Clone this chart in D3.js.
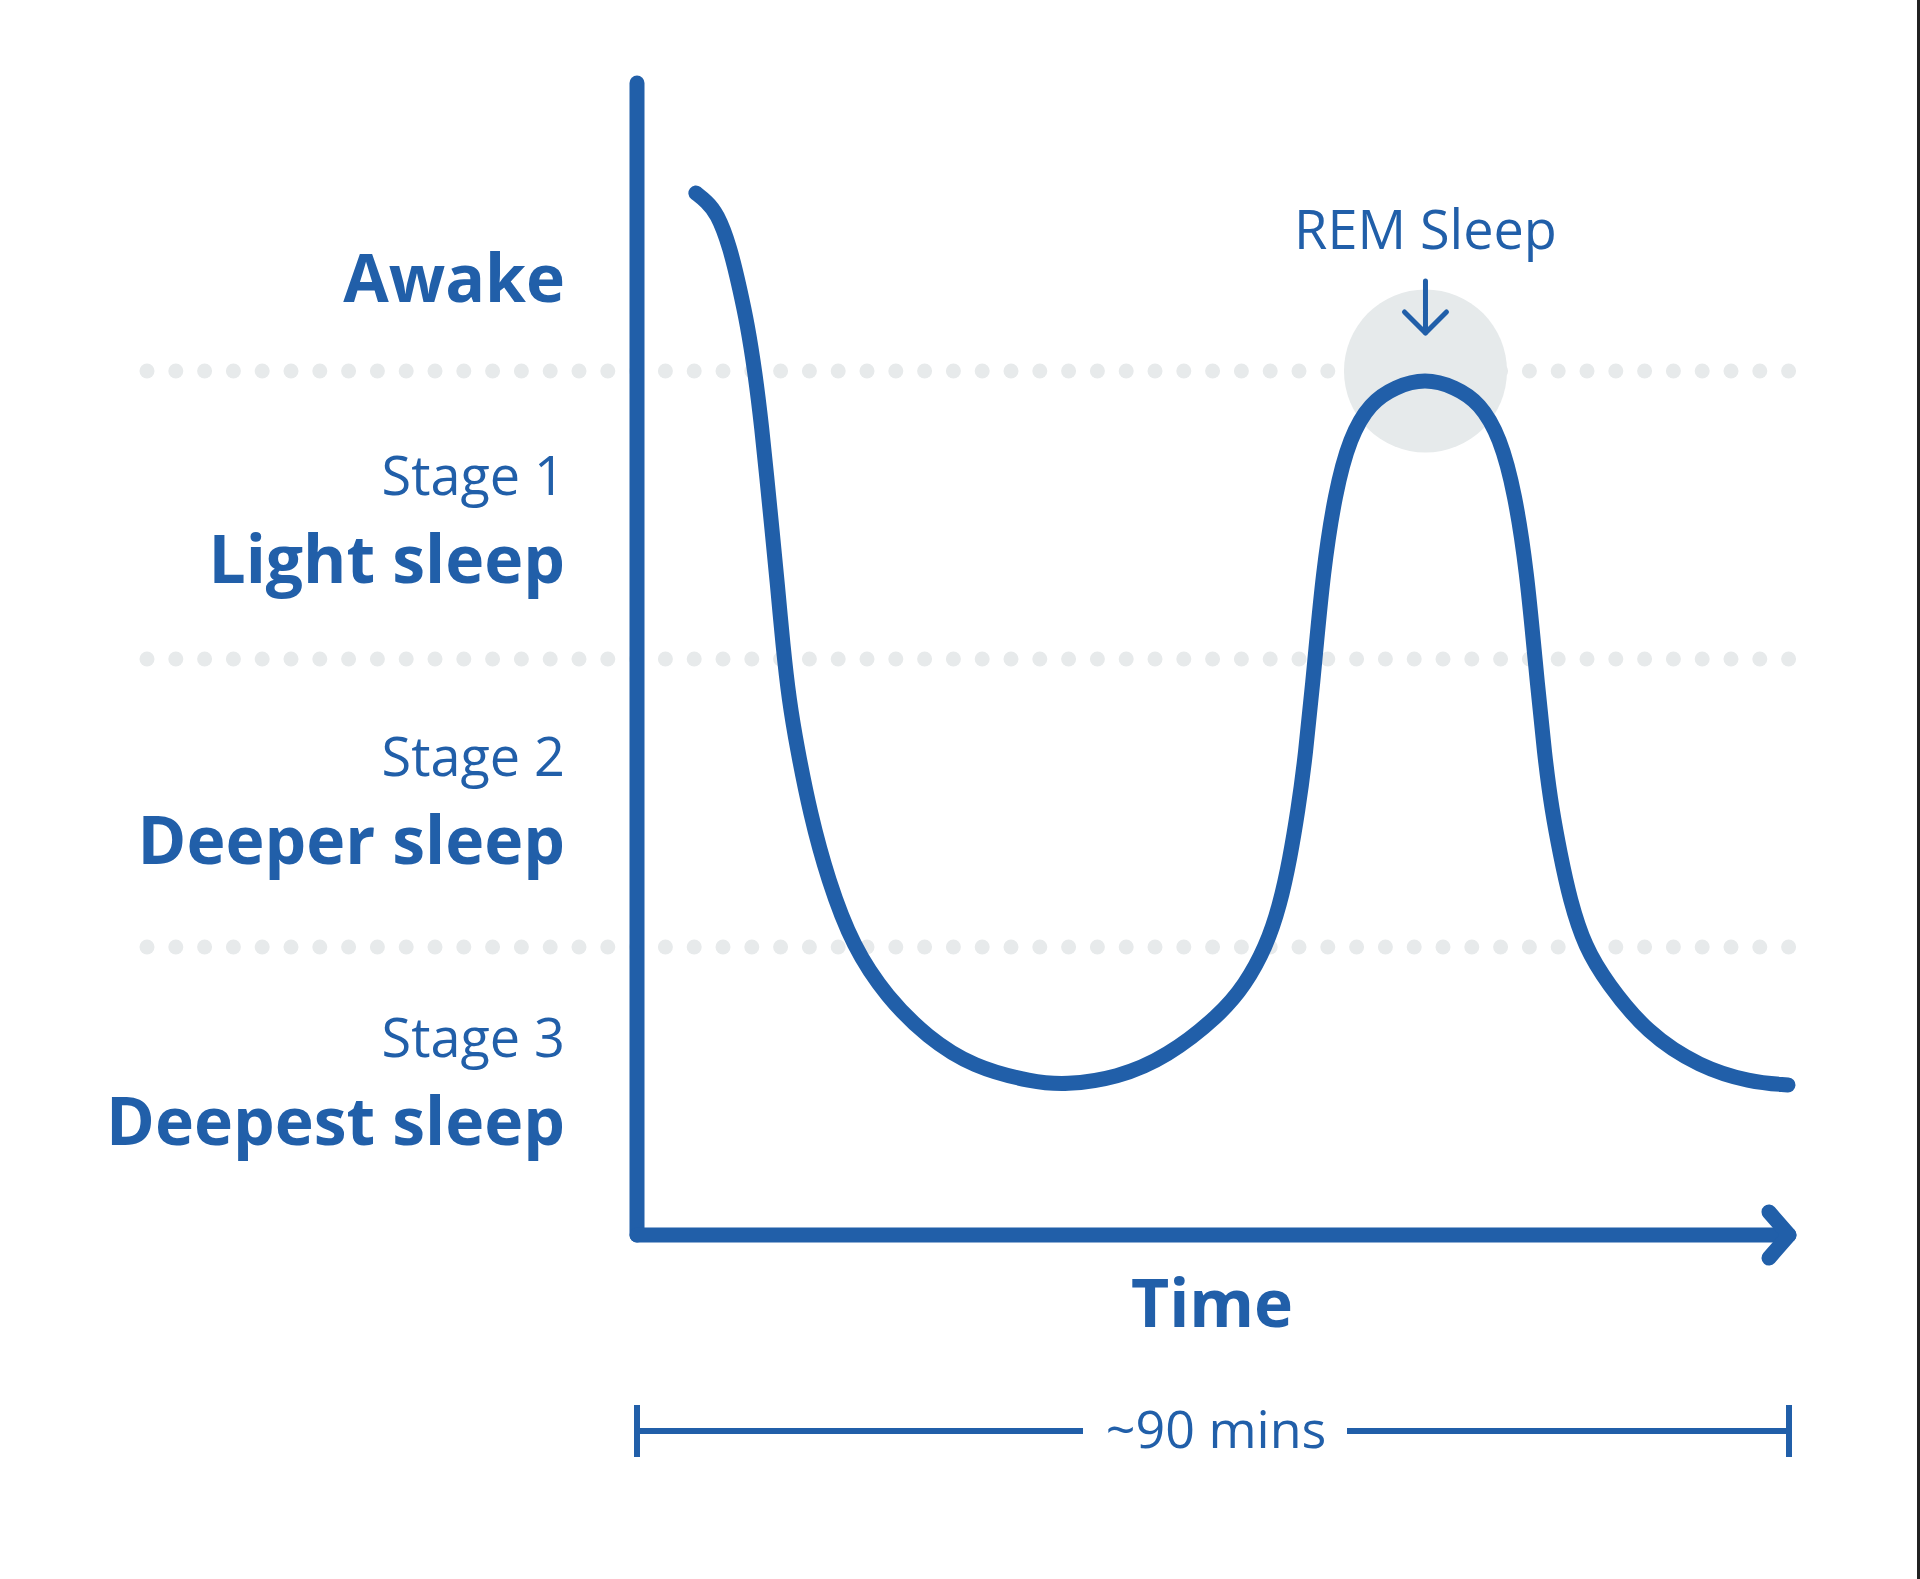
<!DOCTYPE html>
<html>
<head>
<meta charset="utf-8">
<script src="https://cdn.jsdelivr.net/npm/d3@7"></script>
<style>
  html, body { margin: 0; padding: 0; background: #fff; }
  svg { display: block; }
  text { font-family: "Open Sans", "Noto Sans", sans-serif; fill: #215fa9; }
</style>
</head>
<body>
<div id="chart"></div>
<script>
// Sleep bands (top to bottom) and their sub labels
const bandNames = ["Awake", "Light sleep", "Deeper sleep", "Deepest sleep"]
const stageNames = ["", "Stage 1", "Stage 2", "Stage 3"]

// Curve: time in minutes, depth in stage units (0 = line between Awake and Stage 1)
const minutes = [4.6, 5.4, 6.25, 7.27, 8.05, 8.6, 9.22, 9.77, 10.16, 10.55, 10.94, 11.41, 11.88,
  12.5, 13.52, 14.92, 16.88, 19.53, 22.66, 26.25, 30.94, 33.44, 37.5, 41.41, 45.55, 47.5, 49.14,
  50.23, 51.02, 51.64, 52.19, 52.97, 53.59, 54.53, 55.7, 57.27, 59.22, 61.56, 63.91, 65.86, 67.42,
  68.59, 69.53, 70.16, 70.94, 71.48, 72.11, 72.89, 74.06, 75.78, 78.91, 83.05, 86.95, 89.92]
const depth = [-0.618, -0.59, -0.549, -0.431, -0.281, -0.167, 0.003, 0.205, 0.378, 0.552, 0.726,
  0.958, 1.142, 1.306, 1.535, 1.767, 2.0, 2.174, 2.313, 2.417, 2.469, 2.479, 2.455, 2.382, 2.236,
  2.132, 2.0, 1.854, 1.691, 1.524, 1.351, 1.003, 0.701, 0.424, 0.229, 0.111, 0.055, 0.025, 0.055,
  0.111, 0.229, 0.424, 0.701, 1.003, 1.351, 1.524, 1.674, 1.837, 2.0, 2.125, 2.299, 2.417, 2.469, 2.479]

const remMinute = 61.6
const cycleLabel = "~90 mins"

const width = 1920, height = 1579
const blue = "#215fa9", grey = "#e7eaeb"

const svg = d3.select("#chart")
  .append("svg")
    .attr("width", width)
    .attr("height", height)

// Scales
const x = d3.scaleLinear().domain([0, 90]).range([637, 1789])
const y = d3.scaleLinear().domain([-1, 3]).range([83, 1235])
// baseline of the bold band names
const labelY = d3.scaleLinear().domain([0, 3]).range([302, 1145])

// Dotted band lines
const dotXs = d3.range(58).map(i => 147 + i * 28.8)
;[0, 1, 2].forEach(b => {
  svg.append("g")
    .selectAll("circle")
    .data(dotXs)
    .join("circle")
      .attr("cx", d => d)
      .attr("cy", y(b))
      .attr("r", 7.5)
      .attr("fill", grey)
})

// REM highlight
svg.append("circle")
  .attr("cx", x(remMinute))
  .attr("cy", y(0))
  .attr("r", 81.5)
  .attr("fill", "#e6eaeb")

// Band labels
const labelX = 565
svg.append("g")
  .selectAll("text")
  .data(bandNames)
  .join("text")
    .attr("x", labelX)
    .attr("y", (d, i) => labelY(i))
    .attr("text-anchor", "end")
    .attr("font-size", "66px")
    .attr("font-weight", 700)
    .text(d => d)

svg.append("g")
  .selectAll("text")
  .data(stageNames)
  .join("text")
    .attr("x", labelX)
    .attr("y", (d, i) => labelY(i) - 88)
    .attr("text-anchor", "end")
    .attr("font-size", "54px")
    .text(d => d)

// Sleep curve
const line = d3.line()
  .x(d => x(d[0]))
  .y(d => y(d[1]))
  .curve(d3.curveBasis)

svg.append("path")
  .datum(d3.zip(minutes, depth))
  .attr("d", line)
  .attr("fill", "none")
  .attr("stroke", blue)
  .attr("stroke-width", 15)
  .attr("stroke-linecap", "round")
  .attr("stroke-linejoin", "round")

// Axes
svg.append("line")
  .attr("x1", x(0)).attr("x2", x(0))
  .attr("y1", y(-1)).attr("y2", y(3))
  .attr("stroke", blue)
  .attr("stroke-width", 15)
  .attr("stroke-linecap", "round")

svg.append("line")
  .attr("x1", x(0)).attr("x2", x(90))
  .attr("y1", y(3)).attr("y2", y(3))
  .attr("stroke", blue)
  .attr("stroke-width", 15)
  .attr("stroke-linecap", "round")

svg.append("path")
  .attr("d", `M${x(90) - 20},${y(3) - 23}L${x(90)},${y(3)}L${x(90) - 20},${y(3) + 23}`)
  .attr("fill", "none")
  .attr("stroke", blue)
  .attr("stroke-width", 15)
  .attr("stroke-linecap", "round")
  .attr("stroke-linejoin", "round")

svg.append("text")
  .attr("x", 1212)
  .attr("y", 1327)
  .attr("text-anchor", "middle")
  .attr("font-size", "66px")
  .attr("font-weight", 700)
  .text("Time")

// REM annotation
const remX = x(remMinute)
svg.append("text")
  .attr("x", remX)
  .attr("y", 249)
  .attr("text-anchor", "middle")
  .attr("font-size", "54px")
  .text("REM Sleep")

svg.append("path")
  .attr("d", `M${remX},281V333M${remX - 21},312L${remX},333L${remX + 21},312`)
  .attr("fill", "none")
  .attr("stroke", blue)
  .attr("stroke-width", 5)
  .attr("stroke-linecap", "round")
  .attr("stroke-linejoin", "round")

// Cycle length bracket
const by = 1431
svg.append("path")
  .attr("d", `M${x(0)},1405V1457M${x(90)},1405V1457M${x(0)},${by}H1083M1347,${by}H${x(90)}`)
  .attr("fill", "none")
  .attr("stroke", blue)
  .attr("stroke-width", 6)

svg.append("text")
  .attr("x", 1216)
  .attr("y", 1448)
  .attr("text-anchor", "middle")
  .attr("font-size", "52px")
  .text(cycleLabel)

// right edge border
svg.append("line")
  .attr("x1", 1918.5).attr("x2", 1918.5)
  .attr("y1", 0).attr("y2", height)
  .attr("stroke", "#222")
  .attr("stroke-width", 3)
</script>
</body>
</html>
